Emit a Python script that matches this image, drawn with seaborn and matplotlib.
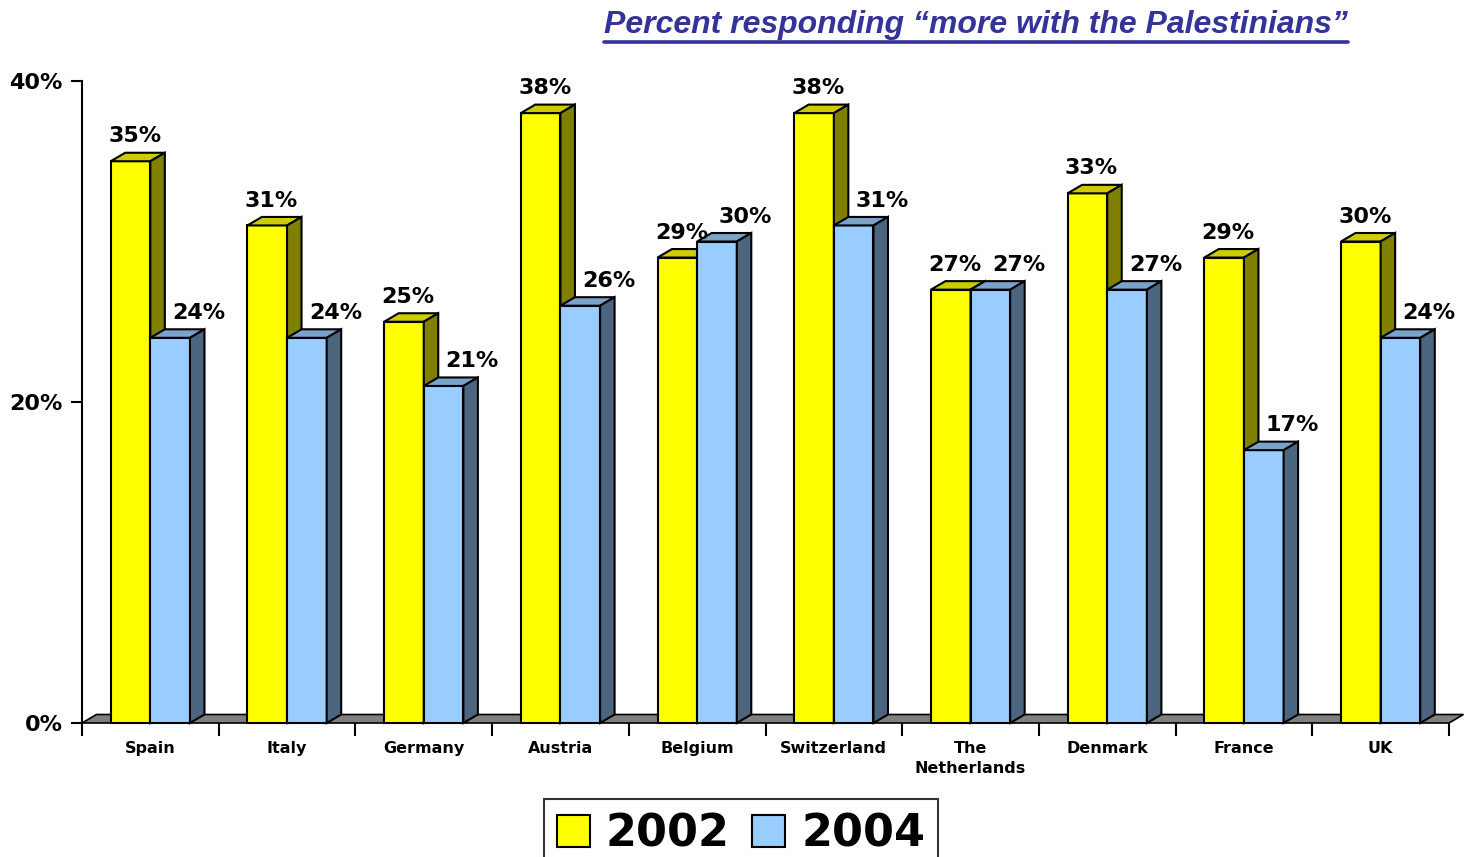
import numpy as np
import pandas as pd
import matplotlib
matplotlib.use("Agg")
import matplotlib.pyplot as plt
from matplotlib.patches import Polygon, Patch
from matplotlib.lines import Line2D
import seaborn as sns

countries = ["Spain", "Italy", "Germany", "Austria", "Belgium", "Switzerland",
             "The\nNetherlands", "Denmark", "France", "UK"]
values_2002 = [35, 31, 25, 38, 29, 38, 27, 33, 29, 30]
values_2004 = [24, 24, 21, 26, 30, 31, 27, 27, 17, 24]
years = ["2002", "2004"]
y_ticks = [0, 20, 40]
y_tick_labels = ["0%", "20%", "40%"]
title = "Percent responding \u201cmore with the Palestinians\u201d"

front = {"2002": "#FFFF00", "2004": "#99CCFF"}
topc = {"2002": "#CCCC00", "2004": "#7AA3CC"}
sidec = {"2002": "#808000", "2004": "#4D6680"}

df = pd.DataFrame({
    "country": countries * 2,
    "value": values_2002 + values_2004,
    "year": ["2002"] * len(countries) + ["2004"] * len(countries),
})

sns.set_theme(style="white")
plt.rcParams["font.family"] = ["DejaVu Sans"]
plt.rcParams["text.color"] = "black"
plt.rcParams["xtick.color"] = "black"
plt.rcParams["ytick.color"] = "black"
plt.rcParams["xtick.labelcolor"] = "black"
plt.rcParams["ytick.labelcolor"] = "black"

fig = plt.figure(figsize=(14.68, 8.57), dpi=100)
ax = fig.add_axes([82 / 1468, 134 / 857, (1449 - 82) / 1468, (723 - 81) / 857])

sns.barplot(data=df, x="country", y="value", hue="year", order=countries,
            hue_order=years, palette=[front[y] for y in years], width=0.58,
            saturation=1, edgecolor="black", linewidth=1.5, legend=False, ax=ax)

ax.set_xlim(-0.5, len(countries) - 0.5)
ax.set_ylim(0, 40)

dx, dy = 0.106, 0.53

# floor
floor = Polygon([(-0.5, 0), (len(countries) - 0.5, 0),
                 (len(countries) - 0.5 + dx, dy), (-0.5 + dx, dy)],
                closed=True, facecolor="#808080", edgecolor="black",
                linewidth=1.2, zorder=2, clip_on=False)
ax.add_patch(floor)

bars = [b for b in list(ax.patches) if b is not floor]
n = len(countries)
for i, bar in enumerate(bars[:2 * n]):
    yr = years[i // n]
    z = 3 if yr == "2002" else 4
    x0 = bar.get_x()
    w = bar.get_width()
    h = bar.get_height()
    bar.set_zorder(z)
    bar.set_clip_on(False)
    top = Polygon([(x0, h), (x0 + w, h), (x0 + w + dx, h + dy), (x0 + dx, h + dy)],
                  closed=True, facecolor=topc[yr], edgecolor="black",
                  linewidth=1.5, zorder=z, clip_on=False)
    side = Polygon([(x0 + w, 0), (x0 + w + dx, dy), (x0 + w + dx, h + dy), (x0 + w, h)],
                   closed=True, facecolor=sidec[yr], edgecolor="black",
                   linewidth=1.5, zorder=z, clip_on=False)
    ax.add_patch(top)
    ax.add_patch(side)
    xoff = 0.03 if yr == "2002" else 0.21
    ax.text(x0 + w / 2 + xoff, h + 1.55, f"{int(round(h))}%", ha="center",
            va="center", fontsize=16, fontweight="bold", color="black",
            zorder=6, clip_on=False)

# axes styling
for s in ["top", "right"]:
    ax.spines[s].set_visible(False)
ax.spines["left"].set_color("black")
ax.spines["left"].set_linewidth(1.5)
ax.spines["bottom"].set_visible(False)
ax.set_xlabel("")
ax.set_ylabel("")

ax.set_yticks(y_ticks)
ax.set_yticklabels(y_tick_labels, fontsize=16, fontweight="bold", color="black")
ax.tick_params(axis="y", length=8, width=1.5, direction="out", pad=6,
               left=True, colors="black")

ax.set_xticks(np.arange(-0.5, n, 1))
ax.set_xticklabels([""] * (n + 1))
ax.tick_params(axis="x", which="major", length=9, width=1.5, direction="out",
               bottom=True, colors="black")
ax.set_xticks(np.arange(n), minor=True)
ax.set_xticklabels(countries, minor=True, fontsize=11.5, fontweight="bold",
                   linespacing=1.4, color="black")
ax.tick_params(axis="x", which="minor", length=0, pad=13, colors="black")

# legend
handles = [Patch(facecolor=front[y], edgecolor="black", linewidth=1.5) for y in years]
leg = fig.legend(handles, years, loc="upper center",
                 bbox_to_anchor=(741 / 1468, 1 - 799 / 857),
                 ncol=2, frameon=True, fancybox=False,
                 prop={"weight": "bold", "size": 32},
                 handlelength=0.75, handleheight=0.75, handletextpad=0.35,
                 columnspacing=0.5, borderpad=0.3, borderaxespad=0)
leg.get_frame().set_edgecolor("black")
leg.get_frame().set_linewidth(1.5)
for txt in leg.get_texts():
    txt.set_color("black")

# title with underline
t = fig.text(976 / 1468, 1 - 25 / 857, title, ha="center", va="center",
             fontsize=23, fontweight="bold", fontstyle="italic",
             color="#333399", family=["Liberation Sans", "DejaVu Sans"])
fig.canvas.draw()
bb = t.get_window_extent()
W, H = fig.canvas.get_width_height()
fig.add_artist(Line2D([bb.x0 / W, bb.x1 / W], [(bb.y0 - 1.5) / H, (bb.y0 - 1.5) / H],
                      color="#333399", linewidth=2.6, transform=fig.transFigure))

fig.savefig("out.png", dpi=100)
